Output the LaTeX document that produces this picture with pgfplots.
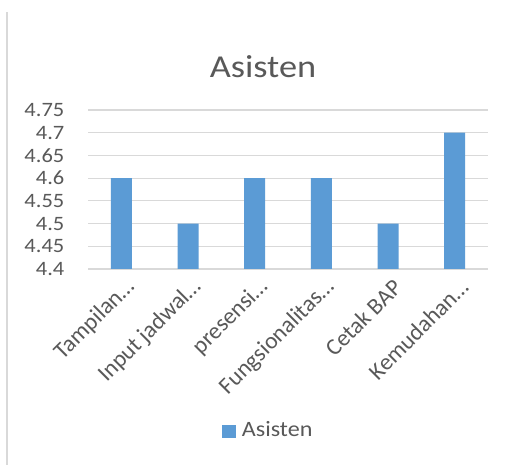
\documentclass[border=0pt]{standalone}
\usepackage{fontspec}
\setmainfont{Carlito}
\usepackage{pgfplots}
\pgfplotsset{compat=1.18}
\definecolor{barblue}{HTML}{5B9BD5}
\definecolor{gridgray}{HTML}{D9D9D9}
\definecolor{txtgray}{HTML}{595959}
\begin{document}
\begin{tikzpicture}[x=1bp,y=1bp]
\useasboundingbox (0,0) rectangle (512,465);
\fill[white] (0,0) rectangle (512,465);
\draw[gridgray, line width=1.5bp] (7,0) -- (7,453);
\node[text=txtgray, font=\fontsize{32}{38}\selectfont, xscale=1.14] at (263,398) {Asisten};
\begin{axis}[
  at={(88bp,196bp)}, anchor=south west,
  scale only axis, width=400bp, height=159bp,
  ybar, bar width=21bp,
  xmin=-0.5, xmax=5.5, ymin=4.4, ymax=4.75,
  xtick=data,
  xticklabels={Tampilan…, Input jadwal…, presensi…, Fungsionalitas…, Cetak BAP, Kemudahan…},
  ytick={4.4,4.45,4.5,4.55,4.6,4.65,4.7,4.75},
  yticklabels={4.4,4.45,4.5,4.55,4.6,4.65,4.7,4.75},
  /pgf/number format/assume math mode=true,
  ymajorgrids, grid style={gridgray, line width=1.2bp},
  axis x line*=bottom, axis y line*=left,
  x axis line style={gridgray, line width=1.2bp, -},
  y axis line style={draw=none},
  major tick length=0pt,
  tick label style={text=txtgray},
  yticklabel style={font=\fontsize{20.5}{24}\selectfont, xscale=1.1, anchor=east, xshift=-18bp},
  xticklabel style={font=\fontsize{23.5}{28}\selectfont, xshift=12bp, yshift=-12bp, rotate=45, anchor=east},
  clip=true,
]
\addplot[fill=barblue, draw=none] coordinates {(0,4.6) (1,4.5) (2,4.6) (3,4.6) (4,4.5) (5,4.7)};
\end{axis}
\fill[barblue] (222,27) rectangle (236,40);
\node[text=txtgray, font=\fontsize{22}{26}\selectfont, xscale=1.1, anchor=west] at (238,36) {Asisten};
\end{tikzpicture}
\end{document}
